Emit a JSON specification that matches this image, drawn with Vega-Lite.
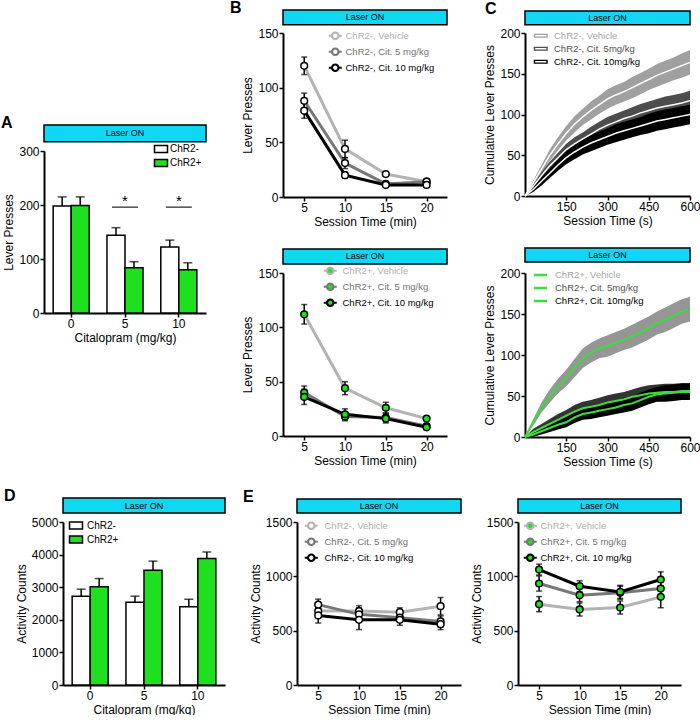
{
 "$schema": "https://vega.github.io/schema/vega-lite/v6.json",
 "background": "white",
 "padding": {"left": 0, "top": 0, "right": 0, "bottom": 0},
 "config": {
  "font": "Liberation Sans",
  "view": {"stroke": null},
  "axis": {"grid": false, "domainColor": "black", "domainWidth": 2, "tickColor": "black", "tickWidth": 1.5, "tickSize": 4, "labelColor": "black", "labelFontSize": 12, "labelPadding": 1, "titleFontSize": 12, "titleFontWeight": "normal", "titleColor": "black", "titlePadding": 3, "labelFlush": false, "labelOverlap": false},
  "legend": {"labelFontSize": 9.5, "padding": 0, "rowPadding": 0, "labelOffset": 4, "labelLimit": 300, "labelColor": "black"},
  "title": {"fontSize": 16, "fontWeight": "bold", "anchor": "start", "frame": "group", "color": "black", "offset": -7}
 },
 "datasets": {
  "laser": [{"label": "Laser ON"}],
  "blank": [{"label": ""}],
  "barsA": [
   {"dose": 0, "group": "ChR2-", "mean": 198, "upper": 215},
   {"dose": 0, "group": "ChR2+", "mean": 199, "upper": 215},
   {"dose": 5, "group": "ChR2-", "mean": 144, "upper": 158},
   {"dose": 5, "group": "ChR2+", "mean": 84, "upper": 95},
   {"dose": 10, "group": "ChR2-", "mean": 122, "upper": 135},
   {"dose": 10, "group": "ChR2+", "mean": 80, "upper": 93}
  ],
  "sigA": [{"dose": 5, "label": "*"}, {"dose": 10, "label": "*"}],
  "barsD": [
   {"dose": 0, "group": "ChR2-", "mean": 2725, "upper": 2940},
   {"dose": 0, "group": "ChR2+", "mean": 3010, "upper": 3265},
   {"dose": 5, "group": "ChR2-", "mean": 2540, "upper": 2725},
   {"dose": 5, "group": "ChR2+", "mean": 3520, "upper": 3800},
   {"dose": 10, "group": "ChR2-", "mean": 2400, "upper": 2630},
   {"dose": 10, "group": "ChR2+", "mean": 3880, "upper": 4080}
  ],
  "bTop": [
   {"t": 5, "s": "ChR2-, Vehicle", "m": 120, "lo": 112, "hi": 128},
   {"t": 10, "s": "ChR2-, Vehicle", "m": 44, "lo": 36, "hi": 52},
   {"t": 15, "s": "ChR2-, Vehicle", "m": 21, "lo": 19, "hi": 23},
   {"t": 20, "s": "ChR2-, Vehicle", "m": 14, "lo": 12, "hi": 16},
   {"t": 5, "s": "ChR2-, Cit. 5 mg/kg", "m": 88, "lo": 81, "hi": 95},
   {"t": 10, "s": "ChR2-, Cit. 5 mg/kg", "m": 31, "lo": 26, "hi": 36},
   {"t": 15, "s": "ChR2-, Cit. 5 mg/kg", "m": 12, "lo": 10, "hi": 14},
   {"t": 20, "s": "ChR2-, Cit. 5 mg/kg", "m": 14, "lo": 12, "hi": 16},
   {"t": 5, "s": "ChR2-, Cit. 10 mg/kg", "m": 79, "lo": 72, "hi": 86},
   {"t": 10, "s": "ChR2-, Cit. 10 mg/kg", "m": 20, "lo": 17, "hi": 23},
   {"t": 15, "s": "ChR2-, Cit. 10 mg/kg", "m": 11, "lo": 9, "hi": 13},
   {"t": 20, "s": "ChR2-, Cit. 10 mg/kg", "m": 11, "lo": 9, "hi": 13}
  ],
  "bBot": [
   {"t": 5, "s": "ChR2+, Vehicle", "m": 112, "lo": 103, "hi": 121},
   {"t": 10, "s": "ChR2+, Vehicle", "m": 44, "lo": 38, "hi": 50},
   {"t": 15, "s": "ChR2+, Vehicle", "m": 26, "lo": 21, "hi": 31},
   {"t": 20, "s": "ChR2+, Vehicle", "m": 16, "lo": 14, "hi": 18},
   {"t": 5, "s": "ChR2+, Cit. 5 mg/kg", "m": 40, "lo": 34, "hi": 46},
   {"t": 10, "s": "ChR2+, Cit. 5 mg/kg", "m": 18, "lo": 14, "hi": 22},
   {"t": 15, "s": "ChR2+, Cit. 5 mg/kg", "m": 17, "lo": 13, "hi": 21},
   {"t": 20, "s": "ChR2+, Cit. 5 mg/kg", "m": 9, "lo": 7, "hi": 11},
   {"t": 5, "s": "ChR2+, Cit. 10 mg/kg", "m": 36, "lo": 29, "hi": 43},
   {"t": 10, "s": "ChR2+, Cit. 10 mg/kg", "m": 20, "lo": 15, "hi": 25},
   {"t": 15, "s": "ChR2+, Cit. 10 mg/kg", "m": 16, "lo": 12, "hi": 20},
   {"t": 20, "s": "ChR2+, Cit. 10 mg/kg", "m": 8, "lo": 6, "hi": 10}
  ],
  "eLeft": [
   {"t": 5, "s": "ChR2-, Vehicle", "m": 680, "lo": 630, "hi": 730},
   {"t": 10, "s": "ChR2-, Vehicle", "m": 680, "lo": 630, "hi": 730},
   {"t": 15, "s": "ChR2-, Vehicle", "m": 670, "lo": 630, "hi": 710},
   {"t": 20, "s": "ChR2-, Vehicle", "m": 725, "lo": 645, "hi": 805},
   {"t": 5, "s": "ChR2-, Cit. 5 mg/kg", "m": 740, "lo": 690, "hi": 790},
   {"t": 10, "s": "ChR2-, Cit. 5 mg/kg", "m": 650, "lo": 590, "hi": 710},
   {"t": 15, "s": "ChR2-, Cit. 5 mg/kg", "m": 620, "lo": 580, "hi": 660},
   {"t": 20, "s": "ChR2-, Cit. 5 mg/kg", "m": 585, "lo": 535, "hi": 635},
   {"t": 5, "s": "ChR2-, Cit. 10 mg/kg", "m": 640, "lo": 570, "hi": 710},
   {"t": 10, "s": "ChR2-, Cit. 10 mg/kg", "m": 600, "lo": 510, "hi": 690},
   {"t": 15, "s": "ChR2-, Cit. 10 mg/kg", "m": 600, "lo": 550, "hi": 650},
   {"t": 20, "s": "ChR2-, Cit. 10 mg/kg", "m": 560, "lo": 510, "hi": 610}
  ],
  "eRight": [
   {"t": 5, "s": "ChR2+, Vehicle", "m": 744, "lo": 674, "hi": 814},
   {"t": 10, "s": "ChR2+, Vehicle", "m": 695, "lo": 635, "hi": 755},
   {"t": 15, "s": "ChR2+, Vehicle", "m": 713, "lo": 653, "hi": 773},
   {"t": 20, "s": "ChR2+, Vehicle", "m": 811, "lo": 711, "hi": 911},
   {"t": 5, "s": "ChR2+, Cit. 5 mg/kg", "m": 934, "lo": 864, "hi": 1004},
   {"t": 10, "s": "ChR2+, Cit. 5 mg/kg", "m": 827, "lo": 767, "hi": 887},
   {"t": 15, "s": "ChR2+, Cit. 5 mg/kg", "m": 848, "lo": 788, "hi": 908},
   {"t": 20, "s": "ChR2+, Cit. 5 mg/kg", "m": 888, "lo": 828, "hi": 948},
   {"t": 5, "s": "ChR2+, Cit. 10 mg/kg", "m": 1062, "lo": 1012, "hi": 1112},
   {"t": 10, "s": "ChR2+, Cit. 10 mg/kg", "m": 909, "lo": 859, "hi": 959},
   {"t": 15, "s": "ChR2+, Cit. 10 mg/kg", "m": 857, "lo": 797, "hi": 917},
   {"t": 20, "s": "ChR2+, Cit. 10 mg/kg", "m": 971, "lo": 901, "hi": 1041}
  ],
  "cTop": [
   {"t":0,"s":"ChR2-, Vehicle","m":0,"lo":0,"hi":0},
   {"t":30,"s":"ChR2-, Vehicle","m":16,"lo":13,"hi":19},
   {"t":60,"s":"ChR2-, Vehicle","m":33,"lo":28,"hi":38},
   {"t":90,"s":"ChR2-, Vehicle","m":50,"lo":43,"hi":57},
   {"t":120,"s":"ChR2-, Vehicle","m":64,"lo":56,"hi":72},
   {"t":150,"s":"ChR2-, Vehicle","m":77,"lo":68,"hi":86},
   {"t":180,"s":"ChR2-, Vehicle","m":88,"lo":78,"hi":98},
   {"t":210,"s":"ChR2-, Vehicle","m":97,"lo":87,"hi":107},
   {"t":240,"s":"ChR2-, Vehicle","m":105,"lo":94,"hi":116},
   {"t":270,"s":"ChR2-, Vehicle","m":112,"lo":101,"hi":123},
   {"t":300,"s":"ChR2-, Vehicle","m":119,"lo":107,"hi":131},
   {"t":330,"s":"ChR2-, Vehicle","m":124,"lo":112,"hi":136},
   {"t":360,"s":"ChR2-, Vehicle","m":128,"lo":116,"hi":140},
   {"t":390,"s":"ChR2-, Vehicle","m":133,"lo":120,"hi":146},
   {"t":420,"s":"ChR2-, Vehicle","m":138,"lo":125,"hi":151},
   {"t":450,"s":"ChR2-, Vehicle","m":143,"lo":130,"hi":156},
   {"t":480,"s":"ChR2-, Vehicle","m":148,"lo":134,"hi":162},
   {"t":510,"s":"ChR2-, Vehicle","m":152,"lo":138,"hi":166},
   {"t":540,"s":"ChR2-, Vehicle","m":156,"lo":142,"hi":170},
   {"t":570,"s":"ChR2-, Vehicle","m":160,"lo":145,"hi":175},
   {"t":600,"s":"ChR2-, Vehicle","m":164,"lo":149,"hi":179},
   {"t":0,"s":"ChR2-, Cit. 5mg/kg","m":0,"lo":0,"hi":0},
   {"t":30,"s":"ChR2-, Cit. 5mg/kg","m":12,"lo":10,"hi":14},
   {"t":60,"s":"ChR2-, Cit. 5mg/kg","m":25,"lo":21,"hi":29},
   {"t":90,"s":"ChR2-, Cit. 5mg/kg","m":37,"lo":32,"hi":42},
   {"t":120,"s":"ChR2-, Cit. 5mg/kg","m":47,"lo":41,"hi":53},
   {"t":150,"s":"ChR2-, Cit. 5mg/kg","m":57,"lo":50,"hi":64},
   {"t":180,"s":"ChR2-, Cit. 5mg/kg","m":64,"lo":56,"hi":72},
   {"t":210,"s":"ChR2-, Cit. 5mg/kg","m":70,"lo":62,"hi":78},
   {"t":240,"s":"ChR2-, Cit. 5mg/kg","m":76,"lo":67,"hi":85},
   {"t":270,"s":"ChR2-, Cit. 5mg/kg","m":82,"lo":73,"hi":91},
   {"t":300,"s":"ChR2-, Cit. 5mg/kg","m":87,"lo":77,"hi":97},
   {"t":330,"s":"ChR2-, Cit. 5mg/kg","m":91,"lo":81,"hi":101},
   {"t":360,"s":"ChR2-, Cit. 5mg/kg","m":95,"lo":85,"hi":105},
   {"t":390,"s":"ChR2-, Cit. 5mg/kg","m":98,"lo":87,"hi":109},
   {"t":420,"s":"ChR2-, Cit. 5mg/kg","m":102,"lo":91,"hi":113},
   {"t":450,"s":"ChR2-, Cit. 5mg/kg","m":105,"lo":94,"hi":116},
   {"t":480,"s":"ChR2-, Cit. 5mg/kg","m":108,"lo":97,"hi":119},
   {"t":510,"s":"ChR2-, Cit. 5mg/kg","m":110,"lo":98,"hi":122},
   {"t":540,"s":"ChR2-, Cit. 5mg/kg","m":112,"lo":100,"hi":124},
   {"t":570,"s":"ChR2-, Cit. 5mg/kg","m":114,"lo":102,"hi":126},
   {"t":600,"s":"ChR2-, Cit. 5mg/kg","m":117,"lo":105,"hi":129},
   {"t":0,"s":"ChR2-, Cit. 10mg/kg","m":0,"lo":0,"hi":0},
   {"t":30,"s":"ChR2-, Cit. 10mg/kg","m":8,"lo":5,"hi":11},
   {"t":60,"s":"ChR2-, Cit. 10mg/kg","m":18,"lo":13,"hi":23},
   {"t":90,"s":"ChR2-, Cit. 10mg/kg","m":28,"lo":22,"hi":34},
   {"t":120,"s":"ChR2-, Cit. 10mg/kg","m":38,"lo":31,"hi":45},
   {"t":150,"s":"ChR2-, Cit. 10mg/kg","m":47,"lo":39,"hi":55},
   {"t":180,"s":"ChR2-, Cit. 10mg/kg","m":54,"lo":45,"hi":63},
   {"t":210,"s":"ChR2-, Cit. 10mg/kg","m":60,"lo":51,"hi":69},
   {"t":240,"s":"ChR2-, Cit. 10mg/kg","m":65,"lo":55,"hi":75},
   {"t":270,"s":"ChR2-, Cit. 10mg/kg","m":69,"lo":59,"hi":79},
   {"t":300,"s":"ChR2-, Cit. 10mg/kg","m":73,"lo":63,"hi":83},
   {"t":330,"s":"ChR2-, Cit. 10mg/kg","m":77,"lo":66,"hi":88},
   {"t":360,"s":"ChR2-, Cit. 10mg/kg","m":80,"lo":69,"hi":91},
   {"t":390,"s":"ChR2-, Cit. 10mg/kg","m":83,"lo":72,"hi":94},
   {"t":420,"s":"ChR2-, Cit. 10mg/kg","m":86,"lo":75,"hi":97},
   {"t":450,"s":"ChR2-, Cit. 10mg/kg","m":89,"lo":77,"hi":101},
   {"t":480,"s":"ChR2-, Cit. 10mg/kg","m":92,"lo":80,"hi":104},
   {"t":510,"s":"ChR2-, Cit. 10mg/kg","m":94,"lo":82,"hi":106},
   {"t":540,"s":"ChR2-, Cit. 10mg/kg","m":96,"lo":84,"hi":108},
   {"t":570,"s":"ChR2-, Cit. 10mg/kg","m":98,"lo":86,"hi":110},
   {"t":600,"s":"ChR2-, Cit. 10mg/kg","m":100,"lo":88,"hi":112}
  ],
  "cBot": [
   {"t":0,"s":"ChR2+, Vehicle","m":0,"lo":0,"hi":0},
   {"t":30,"s":"ChR2+, Vehicle","m":18,"lo":14,"hi":22},
   {"t":60,"s":"ChR2+, Vehicle","m":36,"lo":30,"hi":42},
   {"t":90,"s":"ChR2+, Vehicle","m":50,"lo":42,"hi":58},
   {"t":120,"s":"ChR2+, Vehicle","m":62,"lo":53,"hi":71},
   {"t":150,"s":"ChR2+, Vehicle","m":72,"lo":62,"hi":82},
   {"t":180,"s":"ChR2+, Vehicle","m":84,"lo":73,"hi":95},
   {"t":210,"s":"ChR2+, Vehicle","m":96,"lo":84,"hi":108},
   {"t":240,"s":"ChR2+, Vehicle","m":103,"lo":91,"hi":115},
   {"t":270,"s":"ChR2+, Vehicle","m":108,"lo":96,"hi":120},
   {"t":300,"s":"ChR2+, Vehicle","m":111,"lo":98,"hi":124},
   {"t":330,"s":"ChR2+, Vehicle","m":115,"lo":102,"hi":128},
   {"t":360,"s":"ChR2+, Vehicle","m":119,"lo":106,"hi":132},
   {"t":390,"s":"ChR2+, Vehicle","m":123,"lo":109,"hi":137},
   {"t":420,"s":"ChR2+, Vehicle","m":128,"lo":114,"hi":142},
   {"t":450,"s":"ChR2+, Vehicle","m":133,"lo":119,"hi":147},
   {"t":480,"s":"ChR2+, Vehicle","m":139,"lo":125,"hi":153},
   {"t":510,"s":"ChR2+, Vehicle","m":143,"lo":128,"hi":158},
   {"t":540,"s":"ChR2+, Vehicle","m":148,"lo":133,"hi":163},
   {"t":570,"s":"ChR2+, Vehicle","m":153,"lo":138,"hi":168},
   {"t":600,"s":"ChR2+, Vehicle","m":156,"lo":141,"hi":171},
   {"t":0,"s":"ChR2+, Cit. 5mg/kg","m":0,"lo":0,"hi":0},
   {"t":30,"s":"ChR2+, Cit. 5mg/kg","m":6,"lo":2,"hi":10},
   {"t":60,"s":"ChR2+, Cit. 5mg/kg","m":11,"lo":6,"hi":16},
   {"t":90,"s":"ChR2+, Cit. 5mg/kg","m":16,"lo":10,"hi":22},
   {"t":120,"s":"ChR2+, Cit. 5mg/kg","m":21,"lo":14,"hi":28},
   {"t":150,"s":"ChR2+, Cit. 5mg/kg","m":26,"lo":19,"hi":33},
   {"t":180,"s":"ChR2+, Cit. 5mg/kg","m":31,"lo":23,"hi":39},
   {"t":210,"s":"ChR2+, Cit. 5mg/kg","m":35,"lo":27,"hi":43},
   {"t":240,"s":"ChR2+, Cit. 5mg/kg","m":37,"lo":29,"hi":45},
   {"t":270,"s":"ChR2+, Cit. 5mg/kg","m":39,"lo":30,"hi":48},
   {"t":300,"s":"ChR2+, Cit. 5mg/kg","m":42,"lo":33,"hi":51},
   {"t":330,"s":"ChR2+, Cit. 5mg/kg","m":44,"lo":35,"hi":53},
   {"t":360,"s":"ChR2+, Cit. 5mg/kg","m":46,"lo":37,"hi":55},
   {"t":390,"s":"ChR2+, Cit. 5mg/kg","m":49,"lo":40,"hi":58},
   {"t":420,"s":"ChR2+, Cit. 5mg/kg","m":51,"lo":41,"hi":61},
   {"t":450,"s":"ChR2+, Cit. 5mg/kg","m":53,"lo":43,"hi":63},
   {"t":480,"s":"ChR2+, Cit. 5mg/kg","m":54,"lo":44,"hi":64},
   {"t":510,"s":"ChR2+, Cit. 5mg/kg","m":55,"lo":45,"hi":65},
   {"t":540,"s":"ChR2+, Cit. 5mg/kg","m":55,"lo":45,"hi":65},
   {"t":570,"s":"ChR2+, Cit. 5mg/kg","m":56,"lo":46,"hi":66},
   {"t":600,"s":"ChR2+, Cit. 5mg/kg","m":56,"lo":46,"hi":66},
   {"t":0,"s":"ChR2+, Cit. 10mg/kg","m":0,"lo":0,"hi":0},
   {"t":30,"s":"ChR2+, Cit. 10mg/kg","m":3,"lo":0,"hi":6},
   {"t":60,"s":"ChR2+, Cit. 10mg/kg","m":7,"lo":3,"hi":11},
   {"t":90,"s":"ChR2+, Cit. 10mg/kg","m":11,"lo":6,"hi":16},
   {"t":120,"s":"ChR2+, Cit. 10mg/kg","m":15,"lo":9,"hi":21},
   {"t":150,"s":"ChR2+, Cit. 10mg/kg","m":18,"lo":12,"hi":24},
   {"t":180,"s":"ChR2+, Cit. 10mg/kg","m":24,"lo":17,"hi":31},
   {"t":210,"s":"ChR2+, Cit. 10mg/kg","m":28,"lo":21,"hi":35},
   {"t":240,"s":"ChR2+, Cit. 10mg/kg","m":30,"lo":22,"hi":38},
   {"t":270,"s":"ChR2+, Cit. 10mg/kg","m":32,"lo":24,"hi":40},
   {"t":300,"s":"ChR2+, Cit. 10mg/kg","m":34,"lo":26,"hi":42},
   {"t":330,"s":"ChR2+, Cit. 10mg/kg","m":36,"lo":28,"hi":44},
   {"t":360,"s":"ChR2+, Cit. 10mg/kg","m":39,"lo":30,"hi":48},
   {"t":390,"s":"ChR2+, Cit. 10mg/kg","m":41,"lo":32,"hi":50},
   {"t":420,"s":"ChR2+, Cit. 10mg/kg","m":45,"lo":36,"hi":54},
   {"t":450,"s":"ChR2+, Cit. 10mg/kg","m":49,"lo":40,"hi":58},
   {"t":480,"s":"ChR2+, Cit. 10mg/kg","m":52,"lo":43,"hi":61},
   {"t":510,"s":"ChR2+, Cit. 10mg/kg","m":53,"lo":43,"hi":63},
   {"t":540,"s":"ChR2+, Cit. 10mg/kg","m":54,"lo":44,"hi":64},
   {"t":570,"s":"ChR2+, Cit. 10mg/kg","m":55,"lo":45,"hi":65},
   {"t":600,"s":"ChR2+, Cit. 10mg/kg","m":55,"lo":45,"hi":65}
  ]
 },
 "columns": 1,
 "align": "none",
 "spacing": 21,
 "resolve": {"scale": {"fill": "independent", "stroke": "independent", "xOffset": "independent"}, "legend": {"fill": "independent", "stroke": "independent"}},
 "concat": [
  {
   "columns": 2, "align": {"row": "each", "column": "none"}, "spacing": 0,
   "resolve": {"scale": {"fill": "independent", "stroke": "independent", "xOffset": "independent"}, "legend": {"fill": "independent", "stroke": "independent"}},
   "concat": [
    {"width": 1, "height": 1, "data": {"name": "blank"}, "mark": {"type": "text"}, "encoding": {"text": {"field": "label", "type": "nominal"}}},
    {
     "columns": 2, "align": {"row": "each", "column": "none"}, "spacing": 35,
     "resolve": {"scale": {"fill": "independent", "stroke": "independent", "xOffset": "independent"}, "legend": {"fill": "independent", "stroke": "independent"}},
     "concat": [
      {
       "columns": 2, "align": {"row": "each", "column": "none"}, "spacing": 23,
       "resolve": {"scale": {"fill": "independent", "stroke": "independent", "xOffset": "independent"}, "legend": {"fill": "independent", "stroke": "independent"}},
       "concat": [
        {
         "columns": 1, "align": {"row": "none", "column": "each"}, "spacing": 0,
         "resolve": {"scale": {"fill": "independent", "stroke": "independent", "xOffset": "independent"}, "legend": {"fill": "independent", "stroke": "independent"}},
         "concat": [
          {"width": 1, "height": 82, "data": {"name": "blank"}, "mark": {"type": "text"}, "encoding": {"text": {"field": "label", "type": "nominal"}}},
          {"width": 162, "height": 162, "title": {"text": "A", "dx": -43},
           "layer": [
            {"data": {"name": "barsA"},
             "mark": {"type": "bar", "stroke": "black", "strokeWidth": 1.5},
             "encoding": {
              "x": {"field": "dose", "type": "ordinal", "scale": {"paddingInner": 0.33, "paddingOuter": 0.17}, "axis": {"labelAngle": 0, "title": "Citalopram (mg/kg)"}},
              "xOffset": {"field": "group", "type": "nominal", "scale": {"domain": ["ChR2-", "ChR2+"]}},
              "y": {"field": "mean", "type": "quantitative", "scale": {"domain": [0, 300], "nice": false}, "axis": {"values": [0, 100, 200, 300], "tickCount": 8, "title": "Lever Presses"}},
              "fill": {"field": "group", "type": "nominal", "scale": {"domain": ["ChR2-", "ChR2+"], "range": ["white", "#1ee01e"]},
               "legend": {"orient": "none", "legendX": 112, "legendY": -7, "title": null, "symbolType": "M-2.6,-1.4H2.6V1.4H-2.6Z", "symbolSize": 25, "symbolStrokeColor": "black", "symbolStrokeWidth": 1.5, "labelFontSize": 10, "rowPadding": 0, "labelOffset": 4}}
             }},
            {"data": {"name": "barsA"},
             "mark": {"type": "rule", "strokeWidth": 1.5, "color": "black"},
             "encoding": {"x": {"field": "dose", "type": "ordinal"}, "xOffset": {"field": "group", "type": "nominal"}, "y": {"field": "mean", "type": "quantitative"}, "y2": {"field": "upper"}}},
            {"data": {"name": "barsA"},
             "mark": {"type": "tick", "orient": "horizontal", "thickness": 1.5, "size": 9, "color": "black"},
             "encoding": {"x": {"field": "dose", "type": "ordinal"}, "xOffset": {"field": "group", "type": "nominal"}, "y": {"field": "upper", "type": "quantitative"}}},
            {"data": {"name": "sigA"},
             "mark": {"type": "tick", "orient": "horizontal", "thickness": 1.5, "size": 26, "color": "black"},
             "encoding": {"x": {"field": "dose", "type": "ordinal"}, "y": {"datum": 196, "type": "quantitative"}}},
            {"data": {"name": "sigA"},
             "mark": {"type": "text", "fontSize": 15, "baseline": "middle", "color": "black"},
             "encoding": {"x": {"field": "dose", "type": "ordinal"}, "y": {"datum": 207, "type": "quantitative"}, "text": {"field": "label", "type": "nominal"}}},
            {"data": {"name": "laser"},
             "mark": {"type": "rect", "fill": "#10d8f2", "stroke": "black", "strokeWidth": 1.5},
             "encoding": {"x": {"value": 0}, "x2": {"value": "width"}, "y": {"datum": 317, "type": "quantitative"}, "y2": {"datum": 348}}},
            {"data": {"name": "laser"},
             "mark": {"type": "text", "fontSize": 9, "baseline": "middle", "color": "black"},
             "encoding": {"x": {"datum": 5, "type": "ordinal"}, "y": {"datum": 332.5, "type": "quantitative"}, "text": {"field": "label", "type": "nominal"}}}
           ]}
         ]
        },
        {
         "columns": 1, "align": {"row": "none", "column": "each"}, "spacing": 21,
         "resolve": {"scale": {"fill": "independent", "stroke": "independent", "xOffset": "independent"}, "legend": {"fill": "independent", "stroke": "independent"}},
         "concat": [
          {"width": 164, "height": 164, "title": {"text": "B", "dx": -53},
           "layer": [
            {"data": {"name": "bTop"}, "mark": {"type": "line", "strokeWidth": 3},
             "encoding": {
              "x": {"field": "t", "type": "quantitative", "scale": {"domain": [2.4, 22.5], "nice": false, "zero": false}, "axis": {"values": [5, 10, 15, 20], "title": "Session Time (min)"}},
              "y": {"field": "m", "type": "quantitative", "scale": {"domain": [0, 150], "nice": false}, "axis": {"values": [0, 50, 100, 150], "tickCount": 8, "title": "Lever Presses"}},
              "stroke": {"field": "s", "type": "nominal", "scale": {"domain": ["ChR2-, Vehicle", "ChR2-, Cit. 5 mg/kg", "ChR2-, Cit. 10 mg/kg"], "range": ["#b3b3b3", "#777777", "#000000"]},
               "legend": {"orient": "none", "legendX": 47.5, "legendY": -2, "title": null, "symbolType": "M-2.6,0H-1.3M1.3,0H2.6M-1.3,0C-1.3,-0.72,-0.72,-1.3,0,-1.3C0.72,-1.3,1.3,-0.72,1.3,0C1.3,0.72,0.72,1.3,0,1.3C-0.72,1.3,-1.3,0.72,-1.3,0Z", "symbolSize": 25, "symbolStrokeWidth": 2.2, "symbolFillColor": "white", "labelOffset": 5.5, "rowPadding": 0,
                "labelColor": {"expr": "indexof(datum.value,'Vehicle')>=0 ? '#b0b0b0' : (indexof(datum.value,' 5')>=0 ? '#737373' : '#000000')"}}}
             }},
            {"data": {"name": "bTop"}, "mark": {"type": "rule", "strokeWidth": 1.5, "color": "black"}, "encoding": {"x": {"field": "t", "type": "quantitative"}, "y": {"field": "lo", "type": "quantitative"}, "y2": {"field": "hi"}}},
            {"data": {"name": "bTop"}, "mark": {"type": "tick", "orient": "horizontal", "size": 6, "thickness": 1.5, "color": "black"}, "encoding": {"x": {"field": "t", "type": "quantitative"}, "y": {"field": "lo", "type": "quantitative"}}},
            {"data": {"name": "bTop"}, "mark": {"type": "tick", "orient": "horizontal", "size": 6, "thickness": 1.5, "color": "black"}, "encoding": {"x": {"field": "t", "type": "quantitative"}, "y": {"field": "hi", "type": "quantitative"}}},
            {"data": {"name": "bTop"}, "mark": {"type": "point", "shape": "circle", "filled": true, "fill": "white", "stroke": "black", "strokeWidth": 1.5, "size": 45, "opacity": 1}, "encoding": {"x": {"field": "t", "type": "quantitative"}, "y": {"field": "m", "type": "quantitative"}}},
            {"data": {"name": "laser"}, "mark": {"type": "rect", "fill": "#10d8f2", "stroke": "black", "strokeWidth": 1.5},
             "encoding": {"x": {"value": 0}, "x2": {"value": "width"}, "y": {"datum": 157.5, "type": "quantitative"}, "y2": {"datum": 171}}},
            {"data": {"name": "laser"}, "mark": {"type": "text", "fontSize": 9, "baseline": "middle", "color": "black"},
             "encoding": {"x": {"datum": 12.45, "type": "quantitative"}, "y": {"datum": 164.2, "type": "quantitative"}, "text": {"field": "label", "type": "nominal"}}}
           ]},
          {"width": 164, "height": 163,
           "layer": [
            {"data": {"name": "bBot"}, "mark": {"type": "line", "strokeWidth": 3},
             "encoding": {
              "x": {"field": "t", "type": "quantitative", "scale": {"domain": [2.4, 22.5], "nice": false, "zero": false}, "axis": {"values": [5, 10, 15, 20], "title": "Session Time (min)"}},
              "y": {"field": "m", "type": "quantitative", "scale": {"domain": [0, 150], "nice": false}, "axis": {"values": [0, 50, 100, 150], "tickCount": 8, "title": "Lever Presses"}},
              "stroke": {"field": "s", "type": "nominal", "scale": {"domain": ["ChR2+, Vehicle", "ChR2+, Cit. 5 mg/kg", "ChR2+, Cit. 10 mg/kg"], "range": ["#b3b3b3", "#777777", "#000000"]},
               "legend": {"orient": "none", "legendX": 42.5, "legendY": -7, "title": null, "symbolType": "M-2.6,0H-1.3M1.3,0H2.6M-1.3,0C-1.3,-0.72,-0.72,-1.3,0,-1.3C0.72,-1.3,1.3,-0.72,1.3,0C1.3,0.72,0.72,1.3,0,1.3C-0.72,1.3,-1.3,0.72,-1.3,0Z", "symbolSize": 25, "symbolStrokeWidth": 2.2, "symbolFillColor": "#1ee01e", "labelOffset": 7.5, "rowPadding": 0,
                "labelColor": {"expr": "indexof(datum.value,'Vehicle')>=0 ? '#b0b0b0' : (indexof(datum.value,' 5')>=0 ? '#737373' : '#000000')"}}}
             }},
            {"data": {"name": "bBot"}, "mark": {"type": "rule", "strokeWidth": 1.5, "color": "black"}, "encoding": {"x": {"field": "t", "type": "quantitative"}, "y": {"field": "lo", "type": "quantitative"}, "y2": {"field": "hi"}}},
            {"data": {"name": "bBot"}, "mark": {"type": "tick", "orient": "horizontal", "size": 6, "thickness": 1.5, "color": "black"}, "encoding": {"x": {"field": "t", "type": "quantitative"}, "y": {"field": "lo", "type": "quantitative"}}},
            {"data": {"name": "bBot"}, "mark": {"type": "tick", "orient": "horizontal", "size": 6, "thickness": 1.5, "color": "black"}, "encoding": {"x": {"field": "t", "type": "quantitative"}, "y": {"field": "hi", "type": "quantitative"}}},
            {"data": {"name": "bBot"}, "mark": {"type": "point", "shape": "circle", "filled": true, "fill": "#1ee01e", "stroke": "black", "strokeWidth": 1.5, "size": 45, "opacity": 1}, "encoding": {"x": {"field": "t", "type": "quantitative"}, "y": {"field": "m", "type": "quantitative"}}},
            {"data": {"name": "laser"}, "mark": {"type": "rect", "fill": "#10d8f2", "stroke": "black", "strokeWidth": 1.5},
             "encoding": {"x": {"value": 0}, "x2": {"value": "width"}, "y": {"datum": 158.3, "type": "quantitative"}, "y2": {"datum": 172}}},
            {"data": {"name": "laser"}, "mark": {"type": "text", "fontSize": 9, "baseline": "middle", "color": "black"},
             "encoding": {"x": {"datum": 12.45, "type": "quantitative"}, "y": {"datum": 165.2, "type": "quantitative"}, "text": {"field": "label", "type": "nominal"}}}
           ]}
         ]
        }
       ]
      },
      {
       "columns": 1, "align": {"row": "none", "column": "each"}, "spacing": 21,
       "resolve": {"scale": {"fill": "independent", "stroke": "independent", "xOffset": "independent"}, "legend": {"fill": "independent", "stroke": "independent"}},
       "concat": [
        {"width": 165, "height": 163, "title": {"text": "C", "dx": -40},
         "layer": [
          {"data": {"name": "cTop"}, "mark": {"type": "area", "opacity": 1},
           "encoding": {
            "x": {"field": "t", "type": "quantitative", "scale": {"domain": [0, 600], "nice": false}, "axis": {"values": [150, 300, 450, 600], "title": "Session Time (s)"}},
            "y": {"field": "lo", "type": "quantitative", "scale": {"domain": [0, 200], "nice": false}, "axis": {"values": [0, 50, 100, 150, 200], "tickCount": 8, "title": "Cumulative Lever Presses"}},
            "y2": {"field": "hi"},
            "fill": {"field": "s", "type": "nominal", "scale": {"domain": ["ChR2-, Vehicle", "ChR2-, Cit. 5mg/kg", "ChR2-, Cit. 10mg/kg"], "range": ["#a0a0a0", "#4d4d4d", "#000000"]},
             "legend": {"orient": "none", "legendX": 11, "legendY": -2, "title": null, "symbolType": "M-2.8,-0.84H2.8V0.84H-2.8ZM-2.24,-0.28V0.28H2.24V-0.28Z", "symbolSize": 25, "symbolStrokeWidth": 0, "labelOffset": 8.5, "rowPadding": 2,
              "labelColor": {"expr": "indexof(datum.value,'Vehicle')>=0 ? '#a8a8a8' : (indexof(datum.value,' 5')>=0 ? '#505050' : '#000000')"}}}
           }},
          {"data": {"name": "cTop"}, "mark": {"type": "line", "strokeWidth": 1.5, "color": "white"},
           "encoding": {"x": {"field": "t", "type": "quantitative"}, "y": {"field": "m", "type": "quantitative"}, "detail": {"field": "s", "type": "nominal"}}},
          {"data": {"name": "laser"}, "mark": {"type": "rect", "fill": "#10d8f2", "stroke": "black", "strokeWidth": 1.5},
           "encoding": {"x": {"value": 0}, "x2": {"value": "width"}, "y": {"datum": 210, "type": "quantitative"}, "y2": {"datum": 227}}},
          {"data": {"name": "laser"}, "mark": {"type": "text", "fontSize": 9, "baseline": "middle", "color": "black"},
           "encoding": {"x": {"datum": 300, "type": "quantitative"}, "y": {"datum": 218.5, "type": "quantitative"}, "text": {"field": "label", "type": "nominal"}}}
         ]},
        {"width": 165, "height": 164,
         "layer": [
          {"data": {"name": "cBot"}, "mark": {"type": "area", "opacity": 1},
           "encoding": {
            "x": {"field": "t", "type": "quantitative", "scale": {"domain": [0, 600], "nice": false}, "axis": {"values": [150, 300, 450, 600], "title": "Session Time (s)"}},
            "y": {"field": "lo", "type": "quantitative", "scale": {"domain": [0, 200], "nice": false}, "axis": {"values": [0, 50, 100, 150, 200], "tickCount": 8, "title": "Cumulative Lever Presses"}},
            "y2": {"field": "hi"},
            "fill": {"field": "s", "type": "nominal", "scale": {"domain": ["ChR2+, Vehicle", "ChR2+, Cit. 5mg/kg", "ChR2+, Cit. 10mg/kg"], "range": ["#969696", "#333333", "#000000"]},
             "legend": {"orient": "none", "legendX": 7.5, "legendY": -6, "title": null, "symbolType": "M-1,0H1", "symbolSize": 169, "symbolStrokeColor": "#3ddc3d", "symbolStrokeWidth": 2.5, "labelOffset": 6.5, "rowPadding": 0,
              "labelColor": {"expr": "indexof(datum.value,'Vehicle')>=0 ? '#a8a8a8' : (indexof(datum.value,' 5')>=0 ? '#505050' : '#000000')"}}}
           }},
          {"data": {"name": "cBot"}, "mark": {"type": "line", "strokeWidth": 2, "color": "#3ddc3d"},
           "encoding": {"x": {"field": "t", "type": "quantitative"}, "y": {"field": "m", "type": "quantitative"}, "detail": {"field": "s", "type": "nominal"}}},
          {"data": {"name": "laser"}, "mark": {"type": "rect", "fill": "#10d8f2", "stroke": "black", "strokeWidth": 1.5},
           "encoding": {"x": {"value": 0}, "x2": {"value": "width"}, "y": {"datum": 213.4, "type": "quantitative"}, "y2": {"datum": 230.5}}},
          {"data": {"name": "laser"}, "mark": {"type": "text", "fontSize": 9, "baseline": "middle", "color": "black"},
           "encoding": {"x": {"datum": 300, "type": "quantitative"}, "y": {"datum": 222, "type": "quantitative"}, "text": {"field": "label", "type": "nominal"}}}
         ]}
       ]
      }
     ]
    }
   ]
  },
  {
   "columns": 2, "align": {"row": "each", "column": "none"}, "spacing": 0,
   "resolve": {"scale": {"fill": "independent", "stroke": "independent", "xOffset": "independent"}, "legend": {"fill": "independent", "stroke": "independent"}},
   "concat": [
    {"width": 4, "height": 1, "data": {"name": "blank"}, "mark": {"type": "text"}, "encoding": {"text": {"field": "label", "type": "nominal"}}},
    {
     "columns": 2, "align": {"row": "each", "column": "none"}, "spacing": 8,
     "resolve": {"scale": {"fill": "independent", "stroke": "independent", "xOffset": "independent"}, "legend": {"fill": "independent", "stroke": "independent"}},
     "concat": [
      {
       "columns": 2, "align": {"row": "each", "column": "none"}, "spacing": 17,
       "resolve": {"scale": {"fill": "independent", "stroke": "independent", "xOffset": "independent"}, "legend": {"fill": "independent", "stroke": "independent"}},
       "concat": [
        {"width": 162, "height": 163, "title": {"text": "D", "dx": -59},
         "layer": [
          {"data": {"name": "barsD"},
           "mark": {"type": "bar", "stroke": "black", "strokeWidth": 1.5},
           "encoding": {
            "x": {"field": "dose", "type": "ordinal", "scale": {"paddingInner": 0.33, "paddingOuter": 0.17}, "axis": {"labelAngle": 0, "title": "Citalopram (mg/kg)"}},
            "xOffset": {"field": "group", "type": "nominal", "scale": {"domain": ["ChR2-", "ChR2+"]}},
            "y": {"field": "mean", "type": "quantitative", "scale": {"domain": [0, 5000], "nice": false}, "axis": {"values": [0, 1000, 2000, 3000, 4000, 5000], "tickCount": 10, "format": "d", "title": "Activity Counts"}},
            "fill": {"field": "group", "type": "nominal", "scale": {"domain": ["ChR2-", "ChR2+"], "range": ["white", "#1ee01e"]},
             "legend": {"orient": "none", "legendX": 8, "legendY": -1.5, "title": null, "symbolType": "M-2.6,-1.4H2.6V1.4H-2.6Z", "symbolSize": 25, "symbolStrokeColor": "black", "symbolStrokeWidth": 1.5, "labelFontSize": 10, "rowPadding": 0, "labelOffset": 6}}
           }},
          {"data": {"name": "barsD"},
           "mark": {"type": "rule", "strokeWidth": 1.5, "color": "black"},
           "encoding": {"x": {"field": "dose", "type": "ordinal"}, "xOffset": {"field": "group", "type": "nominal"}, "y": {"field": "mean", "type": "quantitative"}, "y2": {"field": "upper"}}},
          {"data": {"name": "barsD"},
           "mark": {"type": "tick", "orient": "horizontal", "thickness": 1.5, "size": 9, "color": "black"},
           "encoding": {"x": {"field": "dose", "type": "ordinal"}, "xOffset": {"field": "group", "type": "nominal"}, "y": {"field": "upper", "type": "quantitative"}}},
          {"data": {"name": "laser"}, "mark": {"type": "rect", "fill": "#10d8f2", "stroke": "black", "strokeWidth": 1.5},
           "encoding": {"x": {"value": 0}, "x2": {"value": "width"}, "y": {"datum": 5276, "type": "quantitative"}, "y2": {"datum": 5736}}},
          {"data": {"name": "laser"}, "mark": {"type": "text", "fontSize": 9, "baseline": "middle", "color": "black"},
           "encoding": {"x": {"datum": 5, "type": "ordinal"}, "y": {"datum": 5506, "type": "quantitative"}, "text": {"field": "label", "type": "nominal"}}}
         ]},
        {"width": 164, "height": 163, "title": {"text": "E", "dx": -54},
         "layer": [
          {"data": {"name": "eLeft"}, "mark": {"type": "line", "strokeWidth": 3},
           "encoding": {
            "x": {"field": "t", "type": "quantitative", "scale": {"domain": [2.4, 22.5], "nice": false, "zero": false}, "axis": {"values": [5, 10, 15, 20], "title": "Session Time (min)"}},
            "y": {"field": "m", "type": "quantitative", "scale": {"domain": [0, 1500], "nice": false}, "axis": {"values": [0, 500, 1000, 1500], "tickCount": 8, "format": "d", "title": "Activity Counts"}},
            "stroke": {"field": "s", "type": "nominal", "scale": {"domain": ["ChR2-, Vehicle", "ChR2-, Cit. 5 mg/kg", "ChR2-, Cit. 10 mg/kg"], "range": ["#b3b3b3", "#777777", "#000000"]},
             "legend": {"orient": "none", "legendX": 9.5, "legendY": -1, "title": null, "symbolType": "M-2.6,0H-1.3M1.3,0H2.6M-1.3,0C-1.3,-0.72,-0.72,-1.3,0,-1.3C0.72,-1.3,1.3,-0.72,1.3,0C1.3,0.72,0.72,1.3,0,1.3C-0.72,1.3,-1.3,0.72,-1.3,0Z", "symbolSize": 25, "symbolStrokeWidth": 2.2, "symbolFillColor": "white", "labelOffset": 8.5, "rowPadding": 0,
              "labelColor": {"expr": "indexof(datum.value,'Vehicle')>=0 ? '#b0b0b0' : (indexof(datum.value,' 5')>=0 ? '#737373' : '#000000')"}}}
           }},
          {"data": {"name": "eLeft"}, "mark": {"type": "rule", "strokeWidth": 1.5, "color": "black"}, "encoding": {"x": {"field": "t", "type": "quantitative"}, "y": {"field": "lo", "type": "quantitative"}, "y2": {"field": "hi"}}},
          {"data": {"name": "eLeft"}, "mark": {"type": "tick", "orient": "horizontal", "size": 6, "thickness": 1.5, "color": "black"}, "encoding": {"x": {"field": "t", "type": "quantitative"}, "y": {"field": "lo", "type": "quantitative"}}},
          {"data": {"name": "eLeft"}, "mark": {"type": "tick", "orient": "horizontal", "size": 6, "thickness": 1.5, "color": "black"}, "encoding": {"x": {"field": "t", "type": "quantitative"}, "y": {"field": "hi", "type": "quantitative"}}},
          {"data": {"name": "eLeft"}, "mark": {"type": "point", "shape": "circle", "filled": true, "fill": "white", "stroke": "black", "strokeWidth": 1.5, "size": 45, "opacity": 1}, "encoding": {"x": {"field": "t", "type": "quantitative"}, "y": {"field": "m", "type": "quantitative"}}},
          {"data": {"name": "laser"}, "mark": {"type": "rect", "fill": "#10d8f2", "stroke": "black", "strokeWidth": 1.5},
           "encoding": {"x": {"value": 0}, "x2": {"value": "width"}, "y": {"datum": 1583, "type": "quantitative"}, "y2": {"datum": 1712}}},
          {"data": {"name": "laser"}, "mark": {"type": "text", "fontSize": 9, "baseline": "middle", "color": "black"},
           "encoding": {"x": {"datum": 12.45, "type": "quantitative"}, "y": {"datum": 1647.5, "type": "quantitative"}, "text": {"field": "label", "type": "nominal"}}}
         ]}
       ]
      },
      {"width": 163, "height": 163,
       "layer": [
        {"data": {"name": "eRight"}, "mark": {"type": "line", "strokeWidth": 3},
         "encoding": {
          "x": {"field": "t", "type": "quantitative", "scale": {"domain": [2.4, 22.5], "nice": false, "zero": false}, "axis": {"values": [5, 10, 15, 20], "title": "Session Time (min)"}},
          "y": {"field": "m", "type": "quantitative", "scale": {"domain": [0, 1500], "nice": false}, "axis": {"values": [0, 500, 1000, 1500], "tickCount": 8, "format": "d", "title": "Activity Counts"}},
          "stroke": {"field": "s", "type": "nominal", "scale": {"domain": ["ChR2+, Vehicle", "ChR2+, Cit. 5 mg/kg", "ChR2+, Cit. 10 mg/kg"], "range": ["#b3b3b3", "#777777", "#000000"]},
           "legend": {"orient": "none", "legendX": 7.5, "legendY": -1, "title": null, "symbolType": "M-2.6,0H-1.3M1.3,0H2.6M-1.3,0C-1.3,-0.72,-0.72,-1.3,0,-1.3C0.72,-1.3,1.3,-0.72,1.3,0C1.3,0.72,0.72,1.3,0,1.3C-0.72,1.3,-1.3,0.72,-1.3,0Z", "symbolSize": 25, "symbolStrokeWidth": 2.2, "symbolFillColor": "#1ee01e", "labelOffset": 5.5, "rowPadding": 0,
            "labelColor": {"expr": "indexof(datum.value,'Vehicle')>=0 ? '#b0b0b0' : (indexof(datum.value,' 5')>=0 ? '#737373' : '#000000')"}}}
         }},
        {"data": {"name": "eRight"}, "mark": {"type": "rule", "strokeWidth": 1.5, "color": "black"}, "encoding": {"x": {"field": "t", "type": "quantitative"}, "y": {"field": "lo", "type": "quantitative"}, "y2": {"field": "hi"}}},
        {"data": {"name": "eRight"}, "mark": {"type": "tick", "orient": "horizontal", "size": 6, "thickness": 1.5, "color": "black"}, "encoding": {"x": {"field": "t", "type": "quantitative"}, "y": {"field": "lo", "type": "quantitative"}}},
        {"data": {"name": "eRight"}, "mark": {"type": "tick", "orient": "horizontal", "size": 6, "thickness": 1.5, "color": "black"}, "encoding": {"x": {"field": "t", "type": "quantitative"}, "y": {"field": "hi", "type": "quantitative"}}},
        {"data": {"name": "eRight"}, "mark": {"type": "point", "shape": "circle", "filled": true, "fill": "#1ee01e", "stroke": "black", "strokeWidth": 1.5, "size": 45, "opacity": 1}, "encoding": {"x": {"field": "t", "type": "quantitative"}, "y": {"field": "m", "type": "quantitative"}}},
        {"data": {"name": "laser"}, "mark": {"type": "rect", "fill": "#10d8f2", "stroke": "black", "strokeWidth": 1.5},
         "encoding": {"x": {"value": 0}, "x2": {"value": "width"}, "y": {"datum": 1583, "type": "quantitative"}, "y2": {"datum": 1712}}},
        {"data": {"name": "laser"}, "mark": {"type": "text", "fontSize": 9, "baseline": "middle", "color": "black"},
         "encoding": {"x": {"datum": 12.45, "type": "quantitative"}, "y": {"datum": 1647.5, "type": "quantitative"}, "text": {"field": "label", "type": "nominal"}}}
       ]}
     ]
    }
   ]
  }
 ]
}
